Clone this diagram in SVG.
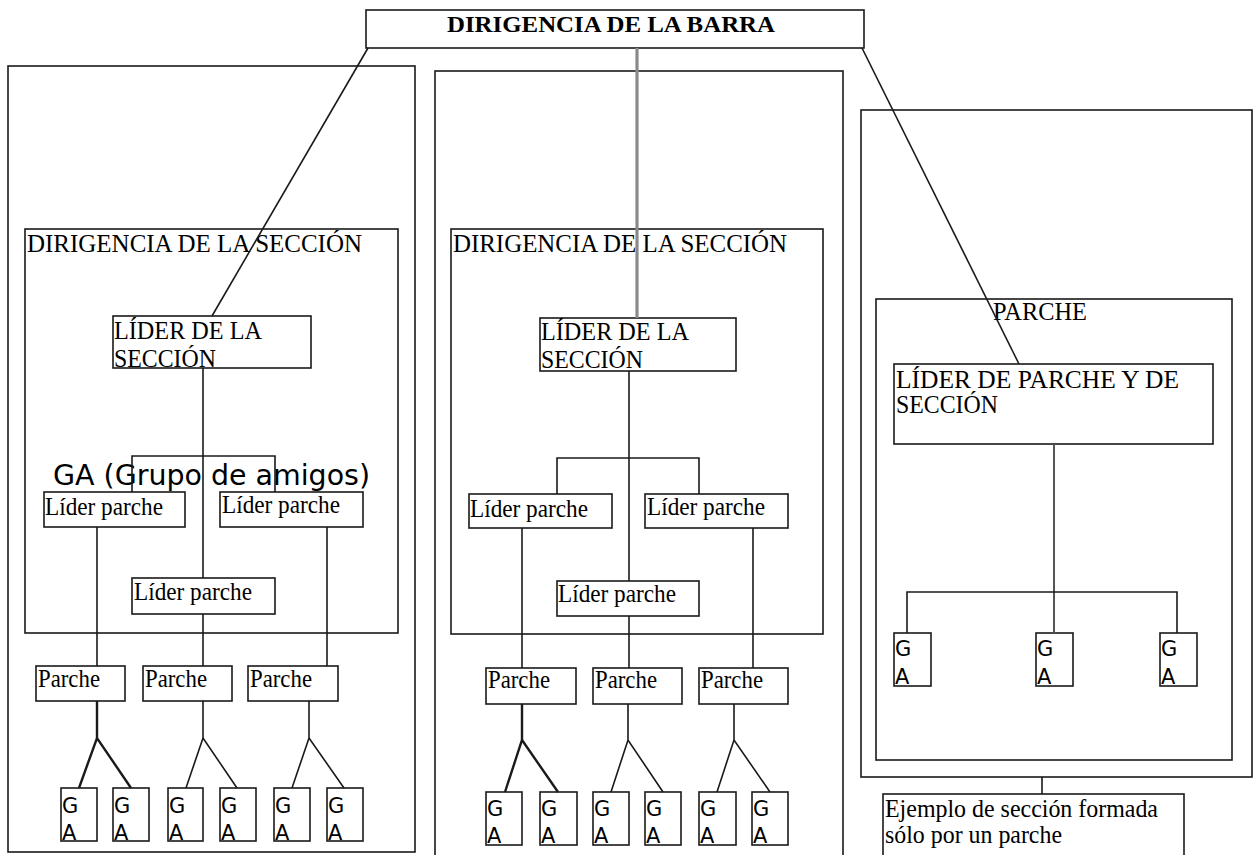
<svg xmlns="http://www.w3.org/2000/svg" width="1258" height="855" viewBox="0 0 1258 855">
<style>
rect{fill:none;stroke:#1a1a1a;stroke-width:1.6}
.ln{fill:none;stroke:#1a1a1a;stroke-width:1.6}
.bold{stroke-width:2.4}
.gray{stroke:#8a8a8a;stroke-width:3.2}
text{font-family:"Liberation Serif","Times New Roman",serif;font-size:25px;fill:#000}
.title{font-weight:bold;font-size:23px}
.galabel{font-family:"DejaVu Sans",Verdana,sans-serif;font-size:28px}
.ga{font-family:"DejaVu Sans",Verdana,sans-serif;font-size:21px}
</style>
<rect width="1258" height="855" style="fill:#fff;stroke:none"/>
<g id="containers">
<rect id="left-section-outer" x="8" y="66" width="407" height="786"/>
<rect id="middle-section-outer" x="435" y="71" width="408" height="795"/>
<rect id="right-section-outer" x="861" y="110" width="391" height="667"/>
</g>
<g id="top">
<rect x="366" y="10" width="498" height="38"/>
<text class="title" x="447" y="32" textLength="328" lengthAdjust="spacingAndGlyphs">DIRIGENCIA  DE  LA BARRA</text>
</g>
<g id="left-dirigencia">
<rect x="25" y="229" width="373" height="404"/>
<text x="27" y="252" textLength="335" lengthAdjust="spacingAndGlyphs">DIRIGENCIA DE LA SECCIÓN</text>
</g>
<g id="left-lider">
<rect x="113" y="316" width="198" height="52"/>
<text x="114" y="339" textLength="148" lengthAdjust="spacingAndGlyphs">LÍDER DE LA</text>
<text x="114" y="367" textLength="102" lengthAdjust="spacingAndGlyphs">SECCIÓN</text>
</g>
<g id="left-ga-label">
<text class="galabel" x="53" y="485" textLength="317" lengthAdjust="spacingAndGlyphs">GA (Grupo de amigos)</text>
</g>
<g id="left-lp1"><rect x="44" y="492" width="141" height="35"/><text x="45" y="515" textLength="118" lengthAdjust="spacingAndGlyphs">Líder parche</text></g>
<g id="left-lp2"><rect x="220" y="492" width="143" height="35"/><text x="222" y="513" textLength="118" lengthAdjust="spacingAndGlyphs">Líder parche</text></g>
<g id="left-lp3"><rect x="132" y="578" width="143" height="36"/><text x="134" y="600" textLength="118" lengthAdjust="spacingAndGlyphs">Líder parche</text></g>
<g id="left-p1"><rect x="36" y="666" width="89" height="35"/><text x="38" y="687" textLength="62" lengthAdjust="spacingAndGlyphs">Parche</text></g>
<g id="left-p2"><rect x="143" y="666" width="89" height="35"/><text x="145" y="687" textLength="62" lengthAdjust="spacingAndGlyphs">Parche</text></g>
<g id="left-p3"><rect x="248" y="666" width="90" height="35"/><text x="250" y="687" textLength="62" lengthAdjust="spacingAndGlyphs">Parche</text></g>
<g id="left-ga1"><rect x="61" y="788" width="36" height="53"/><text class="ga" x="62" y="813">G</text><text class="ga" x="62" y="840">A</text></g>
<g id="left-ga2"><rect x="113" y="788" width="36" height="53"/><text class="ga" x="114" y="813">G</text><text class="ga" x="114" y="840">A</text></g>
<g id="left-ga3"><rect x="168" y="788" width="35" height="53"/><text class="ga" x="169" y="813">G</text><text class="ga" x="169" y="840">A</text></g>
<g id="left-ga4"><rect x="220" y="788" width="36" height="53"/><text class="ga" x="221" y="813">G</text><text class="ga" x="221" y="840">A</text></g>
<g id="left-ga5"><rect x="274" y="788" width="36" height="53"/><text class="ga" x="275" y="813">G</text><text class="ga" x="275" y="840">A</text></g>
<g id="left-ga6"><rect x="327" y="788" width="36" height="53"/><text class="ga" x="328" y="813">G</text><text class="ga" x="328" y="840">A</text></g>

<g id="mid-dirigencia">
<rect x="451" y="229" width="372" height="405"/>
<text x="453" y="252" textLength="334" lengthAdjust="spacingAndGlyphs">DIRIGENCIA DE LA SECCIÓN</text>
</g>
<g id="mid-lider">
<rect x="540" y="318" width="196" height="53"/>
<text x="541" y="340" textLength="148" lengthAdjust="spacingAndGlyphs">LÍDER DE LA</text>
<text x="541" y="368" textLength="102" lengthAdjust="spacingAndGlyphs">SECCIÓN</text>
</g>
<g id="mid-lp1"><rect x="469" y="494" width="143" height="34"/><text x="470" y="517" textLength="118" lengthAdjust="spacingAndGlyphs">Líder parche</text></g>
<g id="mid-lp2"><rect x="645" y="494" width="143" height="34"/><text x="647" y="515" textLength="118" lengthAdjust="spacingAndGlyphs">Líder parche</text></g>
<g id="mid-lp3"><rect x="557" y="581" width="142" height="35"/><text x="558" y="602" textLength="118" lengthAdjust="spacingAndGlyphs">Líder parche</text></g>
<g id="mid-p1"><rect x="486" y="668" width="90" height="36"/><text x="488" y="688" textLength="62" lengthAdjust="spacingAndGlyphs">Parche</text></g>
<g id="mid-p2"><rect x="593" y="668" width="89" height="36"/><text x="595" y="688" textLength="62" lengthAdjust="spacingAndGlyphs">Parche</text></g>
<g id="mid-p3"><rect x="699" y="668" width="89" height="36"/><text x="701" y="688" textLength="62" lengthAdjust="spacingAndGlyphs">Parche</text></g>
<g id="mid-ga1"><rect x="486" y="792" width="36" height="53"/><text class="ga" x="487" y="816">G</text><text class="ga" x="487" y="843">A</text></g>
<g id="mid-ga2"><rect x="540" y="792" width="37" height="53"/><text class="ga" x="541" y="816">G</text><text class="ga" x="541" y="843">A</text></g>
<g id="mid-ga3"><rect x="593" y="792" width="36" height="53"/><text class="ga" x="594" y="816">G</text><text class="ga" x="594" y="843">A</text></g>
<g id="mid-ga4"><rect x="645" y="792" width="36" height="53"/><text class="ga" x="646" y="816">G</text><text class="ga" x="646" y="843">A</text></g>
<g id="mid-ga5"><rect x="699" y="792" width="37" height="53"/><text class="ga" x="700" y="816">G</text><text class="ga" x="700" y="843">A</text></g>
<g id="mid-ga6"><rect x="752" y="792" width="36" height="53"/><text class="ga" x="753" y="816">G</text><text class="ga" x="753" y="843">A</text></g>

<g id="right-parche">
<rect x="876" y="299" width="356" height="461"/>
<text x="993" y="320" textLength="94" lengthAdjust="spacingAndGlyphs">PARCHE</text>
</g>
<g id="right-lider">
<rect x="894" y="364" width="319" height="80"/>
<text x="896" y="388" textLength="283" lengthAdjust="spacingAndGlyphs">LÍDER DE PARCHE  Y DE</text>
<text x="896" y="413" textLength="102" lengthAdjust="spacingAndGlyphs">SECCIÓN</text>
</g>
<g id="right-ga1"><rect x="894" y="633" width="37" height="53"/><text class="ga" x="895" y="656">G</text><text class="ga" x="895" y="684">A</text></g>
<g id="right-ga2"><rect x="1036" y="633" width="37" height="53"/><text class="ga" x="1037" y="656">G</text><text class="ga" x="1037" y="684">A</text></g>
<g id="right-ga3"><rect x="1160" y="633" width="37" height="53"/><text class="ga" x="1161" y="656">G</text><text class="ga" x="1161" y="684">A</text></g>
<g id="note">
<rect x="883" y="794" width="301" height="75"/>
<text x="885" y="817" textLength="273" lengthAdjust="spacingAndGlyphs">Ejemplo de sección  formada</text>
<text x="885" y="843" textLength="177" lengthAdjust="spacingAndGlyphs">sólo por un  parche</text>
</g>

<g id="connectors">
<line class="ln" x1="368" y1="48" x2="212" y2="316"/>
<line class="ln gray" x1="637" y1="48" x2="637" y2="318"/>
<line class="ln" x1="862" y1="48" x2="1019" y2="364"/>
<line class="ln" x1="203" y1="368" x2="203" y2="578"/>
<path class="ln" d="M132,492 V456 H275 V492"/>
<line class="ln" x1="97" y1="527" x2="97" y2="666"/>
<line class="ln" x1="327" y1="527" x2="327" y2="666"/>
<line class="ln" x1="203" y1="614" x2="203" y2="666"/>
<path class="ln bold" d="M97,701 V738 M79,788 L97,738 L131,788"/>
<path class="ln" d="M203,701 V738 M186,788 L203,738 L237,788"/>
<path class="ln" d="M309,701 V738 M292,788 L309,738 L344,788"/>
<line class="ln" x1="629" y1="371" x2="629" y2="581"/>
<path class="ln" d="M557,494 V458 H699 V494"/>
<line class="ln" x1="522" y1="528" x2="522" y2="668"/>
<line class="ln" x1="753" y1="528" x2="753" y2="668"/>
<line class="ln" x1="629" y1="616" x2="629" y2="668"/>
<path class="ln bold" d="M522,704 V740 M505,792 L522,740 L558,792"/>
<path class="ln" d="M628,704 V740 M611,792 L628,740 L663,792"/>
<path class="ln" d="M734,704 V740 M717,792 L734,740 L770,792"/>
<line class="ln" x1="1054" y1="444" x2="1054" y2="633" style="stroke:#555;stroke-width:2"/>
<path class="ln" d="M907,633 V592 H1177 V633"/>
<line class="ln" x1="1042" y1="777" x2="1042" y2="794"/>
</g>
</svg>
